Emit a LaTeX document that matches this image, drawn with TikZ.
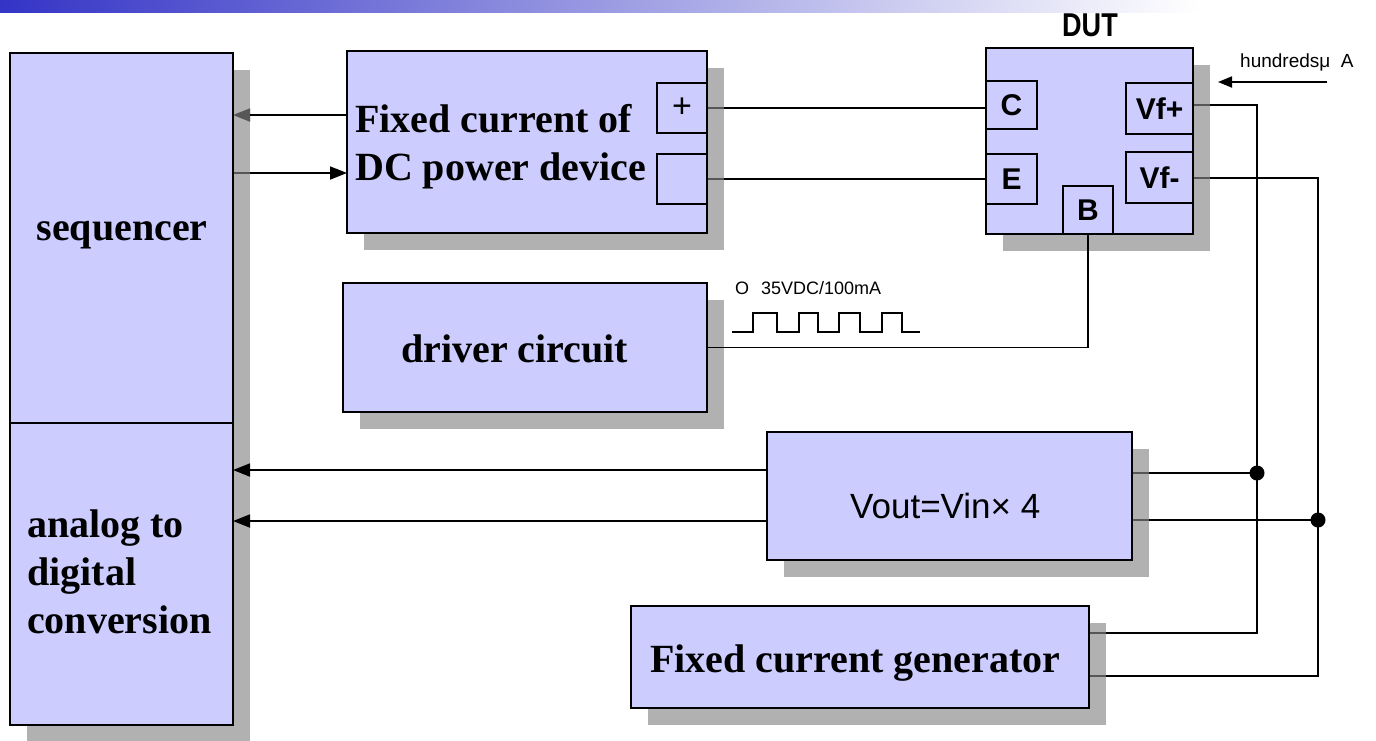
\documentclass[tikz,border=0pt]{standalone}
\usepackage{fontspec}
\setmainfont{Liberation Serif}
\newfontfamily\sansf{Liberation Sans}
\usetikzlibrary{shadows,backgrounds,arrows.meta,calc}
\definecolor{boxfill}{RGB}{204,204,255}
\definecolor{shadowgray}{RGB}{135,135,135}
\definecolor{topblue}{RGB}{52,52,198}
\tikzset{
  blk/.style={rectangle, draw=black, line width=2pt, fill=boxfill, inner sep=0pt, outer sep=0pt,
     drop shadow={shadow xshift=17pt, shadow yshift=-17pt, fill=shadowgray, opacity=0.65}},
  port/.style={rectangle, draw=black, line width=2pt, fill=boxfill, inner sep=0pt, outer sep=0pt,
     font=\sansf\bfseries\fontsize{30}{34}\selectfont},
  serifbig/.style={font=\bfseries\fontsize{40}{48}\selectfont, inner sep=0pt, anchor=base west},
  wire/.style={line width=1.8pt},
  arr/.style={line width=1.8pt, -{Triangle[length=17pt,width=13pt]}},
  harr/.style={line width=1.8pt, -{Triangle[length=14pt,width=11pt]}},
}
\begin{document}
\begin{tikzpicture}[x=1pt,y=-1pt]
\useasboundingbox (0,0) rectangle (1376,740);

% blocks
\node[blk, minimum width=223pt, minimum height=370pt] (seq) at (121.5,238) {};
\node[blk, minimum width=223pt, minimum height=302pt] (adc) at (121.5,574) {};
\node[blk, minimum width=360pt, minimum height=182pt] (dcdev) at (527,142) {};
\node[port, minimum width=50pt, minimum height=50pt, font=\sansf\fontsize{34}{36}\selectfont] (plus) at (682,108) {+};
\node[port, minimum width=50pt, minimum height=50pt] (minus) at (682,179) {};
\node[blk, minimum width=364pt, minimum height=129pt] (drv) at (525,347.5) {};
\node[blk, minimum width=207pt, minimum height=186pt] (dut) at (1089.5,141) {};
\node[port, minimum width=51pt, minimum height=48pt] (C) at (1011.5,105) {C};
\node[port, minimum width=51pt, minimum height=50pt] (E) at (1011.5,179) {E};
\node[port, minimum width=50pt, minimum height=48pt] (B) at (1088,210) {B};
\node[port, minimum width=67pt, minimum height=51pt] (vfp) at (1159.5,108.5) {Vf+};
\node[port, minimum width=67pt, minimum height=51pt] (vfm) at (1159.5,177.5) {Vf-};
\node[blk, minimum width=365pt, minimum height=128pt] (vout) at (949.5,496) {};
\node[blk, minimum width=458pt, minimum height=102pt] (gen) at (860,657) {};

% texts
\node[serifbig, anchor=base] (seqt) at (122,240) {sequencer};
\node[serifbig] (adct1) at (27,537) {analog to};
\node[serifbig] (adct2) at (27,585) {digital};
\node[serifbig] (adct3) at (27,633) {conversion};
\node[serifbig] (dct1) at (355,132) {Fixed current of};
\node[serifbig] (dct2) at (355,180) {DC power device};
\node[serifbig] (drvt) at (401,362) {driver circuit};
\node[serifbig] (gent) at (650,672) {Fixed current generator};
\node[anchor=base west, inner sep=0pt, font=\sansf\fontsize{35}{38}\selectfont] (voutt) at (850,518) {Vout=Vin×\ 4};
\node[inner sep=0pt, font=\sansf\bfseries\fontsize{33}{36}\selectfont] (dutt) at (1090,25) {\scalebox{0.82}[1]{DUT}};
\node[anchor=base west, inner sep=0pt, font=\sansf\fontsize{19}{22}\selectfont] (hund) at (1240,67) {hundredsμ\ \ A};
\node[anchor=base west, inner sep=0pt, font=\sansf\fontsize{18}{20}\selectfont] (volt) at (735,294) {O\hspace{12pt}35VDC/100mA};

% coordinates
\coordinate (j1) at (1257,473);
\coordinate (j2) at (1318,520);
\coordinate (hA) at (1327,82);
\coordinate (hB) at (1218,82);

% connectors under shadows
\begin{pgfonlayer}{background}
\shade[left color=topblue, right color=white] (0,0) rectangle (1200,12);
\draw[arr] (dcdev.west |- 0,115) -- (seq.east |- 0,115);
\draw[arr] (seq.east |- 0,173) -- (dcdev.west |- 0,173);
\draw[wire] (plus.east) -- (C.west |- plus.east);
\draw[wire] (minus.east) -- (E.west |- minus.east);
\draw[wire] (vfp.east |- 0,105) -| (j1) |- (gen.east |- 0,633);
\draw[wire] (vfm.east |- 0,178) -| (j2) |- (gen.east |- 0,676);
\draw[wire] (vout.east |- j1) -- (j1);
\draw[wire] (vout.east |- j2) -- (j2);
\end{pgfonlayer}

% connectors on top
\draw[arr] (vout.west |- 0,470) -- (adc.east |- 0,470);
\draw[arr] (vout.west |- 0,521) -- (adc.east |- 0,521);
\draw[wire] (B.south) |- (drv.east);
\draw[harr] (hA) -- (hB);
\fill (j1) circle (7.5pt);
\fill (j2) circle (7.5pt);

% pulse train
\draw[wire] (732,332) -- (753,332) -- (753,313) -- (777,313) -- (777,332) -- (799,332) -- (799,313) -- (818,313) -- (818,332) -- (839,332) -- (839,313) -- (860,313) -- (860,332) -- (882,332) -- (882,313) -- (902,313) -- (902,332) -- (920,332);
\end{tikzpicture}
\end{document}
